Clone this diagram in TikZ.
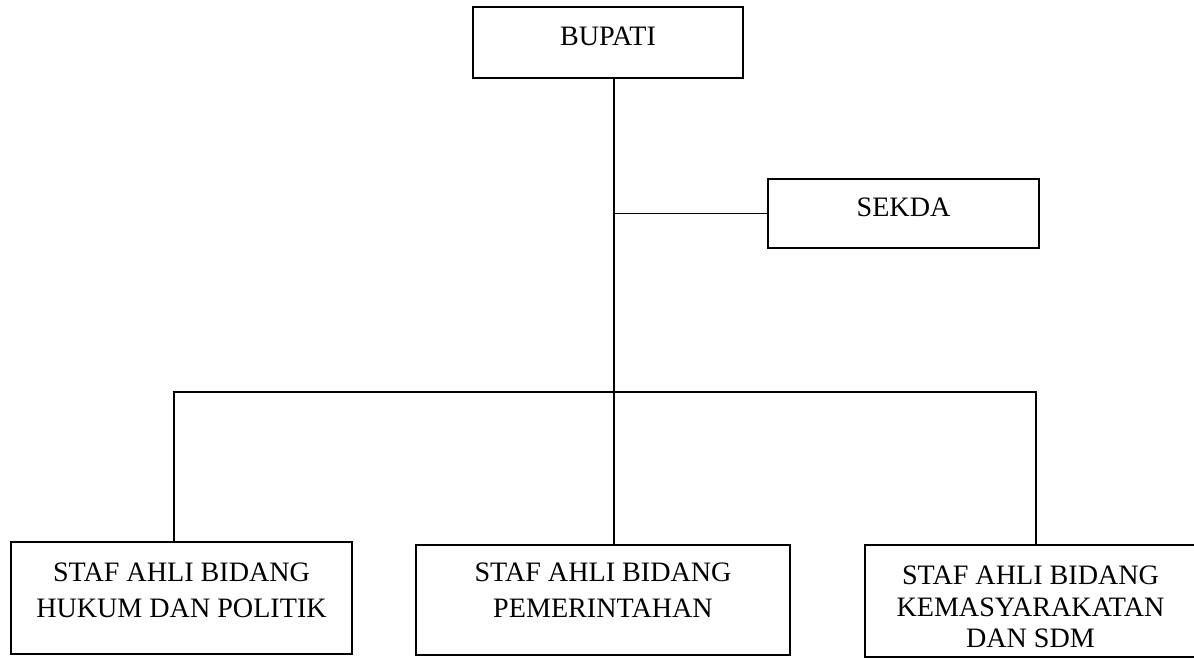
\documentclass[tikz,border=0pt]{standalone}
\usepackage{fontspec}
\setmainfont{Liberation Serif}
\begin{document}
\begin{tikzpicture}[x=0.02cm,y=-0.02cm,line width=1.1pt,
    kotak/.style={draw,rectangle,align=center,inner sep=0pt,
        font=\fontsize{16}{20.1}\selectfont}]
    \useasboundingbox (0,0) rectangle (1194,659);

    \node[kotak,minimum width=5.4cm,minimum height=1.42cm,text depth=6.8pt] (bupati) at (608,42.5) {BUPATI};
    \node[kotak,minimum width=5.42cm,minimum height=1.38cm,text depth=6.8pt] (sekda) at (903.5,213.5) {SEKDA};

    \node[kotak,minimum width=6.82cm,minimum height=2.24cm,text depth=9pt] (hukum) at (181.5,598)
        {STAF AHLI BIDANG\\HUKUM DAN POLITIK};
    \node[kotak,minimum width=7.48cm,minimum height=2.2cm,text depth=11.3pt] (pemerintahan) at (603,600)
        {STAF AHLI BIDANG\\PEMERINTAHAN};
    \node[kotak,minimum width=6.62cm,minimum height=2.24cm,text height=53.5pt,
        font=\fontsize{16}{17.9}\selectfont] (kemasyarakatan) at (1030.5,601)
        {STAF AHLI BIDANG\\KEMASYARAKATAN\\DAN SDM};

    \coordinate (hub) at (614,392);
    \coordinate (kiri) at (174,392);
    \coordinate (kanan) at (1036,392);

    \draw (bupati.south -| hub) -- (hub) -- (pemerintahan.north -| hub);
    \draw (sekda.west) -- (sekda.west -| hub);
    \draw (hukum.north -| kiri) -- (kiri) -- (kanan) -- (kemasyarakatan.north -| kanan);
\end{tikzpicture}
\end{document}
